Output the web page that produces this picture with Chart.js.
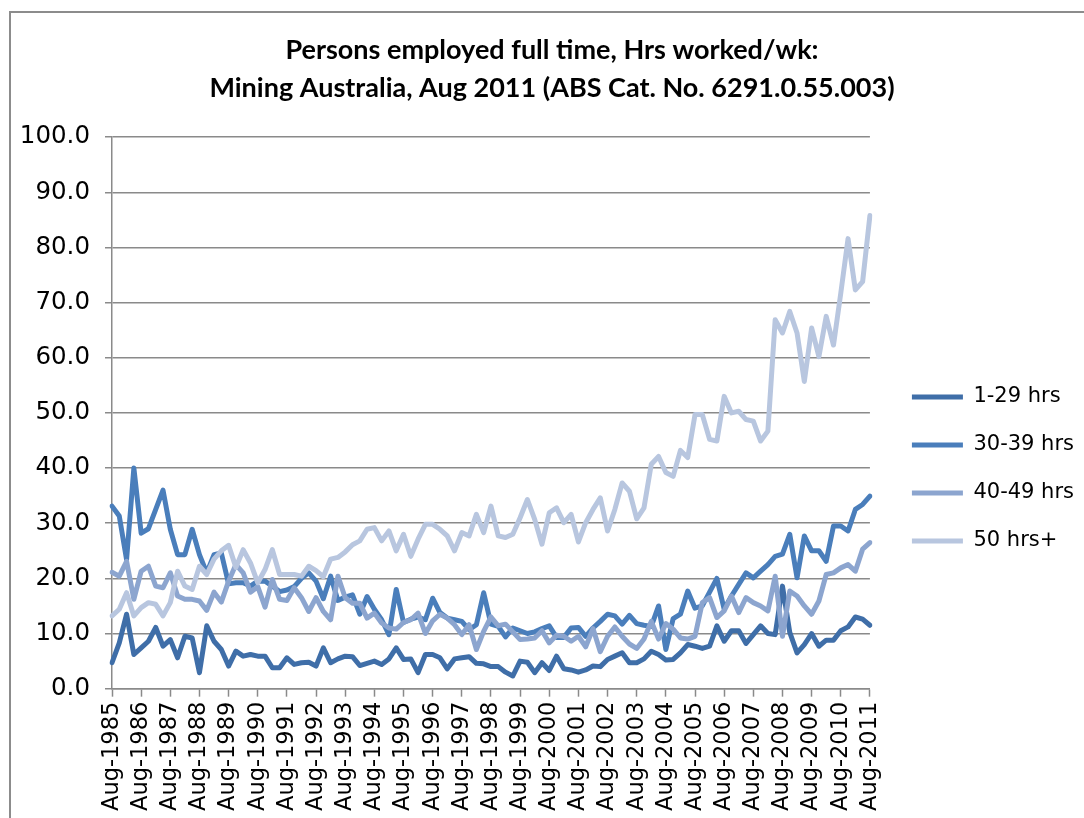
<!DOCTYPE html>
<html>
<head>
<meta charset="utf-8">
<script src="https://cdn.jsdelivr.net/npm/chart.js@4.4.0/dist/chart.umd.min.js"></script>
<style>
  html, body { margin: 0; padding: 0; background: #fff; }
  #wrap { width: 1084px; height: 818px; position: relative; }
</style>
</head>
<body>
<div id="wrap"><canvas id="c" width="1084" height="818"></canvas></div>
<script>
// ---- categories (quarterly) ----
const categories = [
 "Aug-1985","Nov-1985","Feb-1986","May-1986","Aug-1986","Nov-1986","Feb-1987","May-1987",
 "Aug-1987","Nov-1987","Feb-1988","May-1988","Aug-1988","Nov-1988","Feb-1989","May-1989",
 "Aug-1989","Nov-1989","Feb-1990","May-1990","Aug-1990","Nov-1990","Feb-1991","May-1991",
 "Aug-1991","Nov-1991","Feb-1992","May-1992","Aug-1992","Nov-1992","Feb-1993","May-1993",
 "Aug-1993","Nov-1993","Feb-1994","May-1994","Aug-1994","Nov-1994","Feb-1995","May-1995",
 "Aug-1995","Nov-1995","Feb-1996","May-1996","Aug-1996","Nov-1996","Feb-1997","May-1997",
 "Aug-1997","Nov-1997","Feb-1998","May-1998","Aug-1998","Nov-1998","Feb-1999","May-1999",
 "Aug-1999","Nov-1999","Feb-2000","May-2000","Aug-2000","Nov-2000","Feb-2001","May-2001",
 "Aug-2001","Nov-2001","Feb-2002","May-2002","Aug-2002","Nov-2002","Feb-2003","May-2003",
 "Aug-2003","Nov-2003","Feb-2004","May-2004","Aug-2004","Nov-2004","Feb-2005","May-2005",
 "Aug-2005","Nov-2005","Feb-2006","May-2006","Aug-2006","Nov-2006","Feb-2007","May-2007",
 "Aug-2007","Nov-2007","Feb-2008","May-2008","Aug-2008","Nov-2008","Feb-2009","May-2009",
 "Aug-2009","Nov-2009","Feb-2010","May-2010","Aug-2010","Nov-2010","Feb-2011","May-2011",
 "Aug-2011"
];

// ---- series values (%) ----
const hrs1to29 = [
 4.7, 8.3, 13.5, 6.2, 7.4, 8.6, 11.1, 7.7, 8.9, 5.6,
 9.5, 9.2, 2.9, 11.4, 8.6, 7.1, 4.1, 6.8, 5.9, 6.2,
 5.9, 5.9, 3.8, 3.8, 5.6, 4.4, 4.7, 4.8, 4.1, 7.4,
 4.7, 5.4, 5.9, 5.8, 4.2, 4.6, 5.0, 4.4, 5.4, 7.4,
 5.3, 5.4, 2.9, 6.2, 6.2, 5.6, 3.6, 5.4, 5.6, 5.8,
 4.6, 4.5, 4.0, 4.0, 3.0, 2.3, 5.0, 4.8, 2.9, 4.7,
 3.3, 5.9, 3.6, 3.4, 3.0, 3.4, 4.1, 4.0, 5.3, 5.9,
 6.5, 4.7, 4.7, 5.4, 6.8, 6.2, 5.2, 5.3, 6.5, 8.0,
 7.7, 7.3, 7.7, 11.4, 8.6, 10.5, 10.5, 8.2, 9.8, 11.4,
 10.0, 9.8, 18.6, 10.2, 6.5, 8.0, 10.0, 7.7, 8.8, 8.8,
 10.5, 11.2, 13.0, 12.6, 11.5
];
const hrs30to39 = [
 33.1, 31.3, 23.4, 40.0, 28.2, 29.0, 32.5, 36.0, 28.9, 24.3,
 24.3, 28.9, 24.3, 21.0, 24.3, 24.6, 19.0, 19.2, 19.2, 18.6,
 19.5, 19.5, 18.6, 17.6, 17.9, 18.5, 20.0, 21.0, 19.5, 16.3,
 20.4, 16.0, 16.6, 17.0, 13.5, 16.7, 14.4, 12.5, 9.8, 18.0,
 12.0, 12.6, 13.0, 12.5, 16.4, 13.8, 12.8, 12.5, 12.2, 10.7,
 11.6, 17.4, 11.7, 11.3, 9.4, 11.0, 10.5, 10.0, 10.3, 10.9,
 11.4, 9.3, 9.3, 11.0, 11.1, 9.5, 11.0, 12.2, 13.5, 13.2,
 11.7, 13.3, 11.8, 11.5, 11.3, 15.0, 7.1, 12.7, 13.5, 17.7,
 14.6, 15.0, 17.5, 20.0, 14.4, 16.8, 18.9, 21.0, 20.1, 21.3,
 22.5, 24.0, 24.4, 28.0, 20.1, 27.7, 25.0, 25.0, 23.1, 29.5,
 29.5, 28.6, 32.5, 33.4, 34.9
];
const hrs40to49 = [
 21.1, 20.4, 23.1, 16.2, 21.3, 22.2, 18.6, 18.3, 21.0, 16.8,
 16.2, 16.2, 15.9, 14.2, 17.5, 15.7, 19.5, 22.5, 21.0, 17.5,
 18.5, 14.8, 19.8, 16.2, 16.0, 18.3, 16.5, 14.0, 16.5, 14.0,
 12.5, 20.4, 16.5, 15.5, 15.5, 12.8, 13.7, 11.9, 11.0, 10.8,
 12.0, 12.5, 13.7, 10.0, 12.3, 13.5, 12.8, 11.6, 9.8, 11.6,
 7.1, 10.4, 13.0, 11.4, 11.7, 10.3, 8.9, 9.0, 9.2, 10.5,
 8.3, 9.7, 9.5, 8.6, 9.5, 7.6, 10.9, 6.7, 9.5, 11.2,
 9.5, 8.1, 7.3, 9.0, 12.2, 9.0, 11.8, 10.8, 9.2, 9.0,
 9.5, 15.6, 16.5, 12.9, 14.1, 16.8, 13.8, 16.5, 15.6, 15.0,
 14.1, 20.4, 9.5, 17.7, 16.8, 15.0, 13.5, 15.9, 20.7, 21.0,
 21.9, 22.5, 21.3, 25.3, 26.5
];
const hrs50plus = [
 13.2, 14.4, 17.4, 13.2, 14.7, 15.6, 15.3, 13.2, 15.6, 21.3,
 18.6, 18.0, 22.2, 20.7, 23.5, 25.0, 26.0, 22.0, 25.2, 22.8,
 19.2, 21.6, 25.2, 20.7, 20.7, 20.7, 20.4, 22.2, 21.4, 20.3,
 23.5, 23.8, 24.8, 26.1, 26.8, 28.9, 29.2, 26.8, 28.6, 25.0,
 28.0, 24.0, 27.1, 29.8, 29.8, 28.9, 27.7, 25.0, 28.3, 27.7,
 31.6, 28.3, 33.1, 27.7, 27.4, 28.0, 31.0, 34.3, 30.7, 26.2,
 31.9, 32.8, 30.1, 31.6, 26.6, 30.1, 32.5, 34.6, 28.6, 32.5,
 37.3, 35.8, 30.8, 32.8, 40.7, 42.1, 39.2, 38.5, 43.2, 41.9,
 49.7, 49.7, 45.2, 44.9, 53.0, 50.0, 50.3, 48.8, 48.5, 44.9,
 46.7, 66.9, 64.5, 68.4, 64.5, 55.7, 65.4, 60.2, 67.5, 62.3,
 71.7, 81.6, 72.3, 73.8, 85.8
];

const seriesNames = ["1-29 hrs", "30-39 hrs", "40-49 hrs", "50 hrs+"];
const yTickValues = [0, 10, 20, 30, 40, 50, 60, 70, 80, 90, 100];
const titleLines = ["Persons employed full time, Hrs worked/wk:",
                    "Mining Australia, Aug 2011 (ABS Cat. No. 6291.0.55.003)"];

// ---- styling ----
const colors = ["#3f6ea8", "#4a7ebb", "#8ca5cf", "#b8c6df"];
const gridColor = "#8a8a8a";

const allSeries = [hrs1to29, hrs30to39, hrs40to49, hrs50plus];

const framePlugin = {
  id: "frame",
  beforeDraw(chart) {
    const ctx = chart.ctx;
    ctx.save();
    ctx.fillStyle = "#fff";
    ctx.fillRect(0, 0, chart.width, chart.height);
    ctx.strokeStyle = "#8c8c8c";
    ctx.lineWidth = 2;
    ctx.beginPath();
    ctx.moveTo(10, chart.height);
    ctx.lineTo(10, 12);
    ctx.lineTo(chart.width, 12);
    ctx.stroke();
    ctx.restore();
  }
};

new Chart(document.getElementById("c"), {
  type: "line",
  data: {
    labels: categories,
    datasets: allSeries.map((vals, k) => ({
      label: seriesNames[k],
      data: vals,
      borderColor: colors[k],
      backgroundColor: colors[k],
      borderWidth: 5,
      pointRadius: 0,
      pointHoverRadius: 0,
      tension: 0,
      borderJoinStyle: "round",
      borderCapStyle: "round",
      order: allSeries.length - 1 - k
    }))
  },
  options: {
    responsive: false,
    animation: false,
    layout: { padding: { left: 20, right: 0, top: 0, bottom: 2 } },
    plugins: {
      title: {
        display: true,
        text: titleLines,
        color: "#000",
        font: { family: "Lato", weight: "bold", size: 27, lineHeight: 1.41 },
        padding: { top: 31, bottom: 30 }
      },
      legend: {
        position: "right",
        align: "center",
        maxWidth: 320,
        title: { display: true, text: "", font: { size: 10 }, padding: { top: 110, bottom: 0 } },
        labels: {
          color: "#000",
          font: { family: "DejaVu Sans", size: 21 },
          boxWidth: 51,
          boxHeight: 5,
          padding: 27,
          sort: (a, b) => a.datasetIndex - b.datasetIndex,
          generateLabels(chart) {
            const items = Chart.defaults.plugins.legend.labels.generateLabels(chart);
            items.forEach(it => { it.lineWidth = 0; it.fillStyle = colors[it.datasetIndex]; });
            return items;
          }
        }
      },
      tooltip: { enabled: false }
    },
    scales: {
      x: {
        type: "category",
        offset: false,
        afterFit(s) { s.paddingLeft = 0; s.paddingRight = 0; },
        grid: {
          display: true,
          drawOnChartArea: false,
          drawTicks: true,
          tickLength: 8,
          tickWidth: 1.5,
          tickColor: (c) => (c.index % 4 === 0 ? gridColor : "rgba(0,0,0,0)")
        },
        border: { display: true, color: gridColor, width: 1.5 },
        ticks: {
          autoSkip: false,
          maxRotation: 90,
          minRotation: 90,
          padding: 5,
          color: "#000",
          font: { family: "DejaVu Sans", size: 22.5 },
          callback: function (v, i) { return i % 4 === 0 ? categories[i] : ""; }
        }
      },
      y: {
        min: 0,
        max: 100,
        afterBuildTicks(scale) { scale.ticks = yTickValues.map(v => ({ value: v })); },
        afterFit(s) { s.width = 92; },
        grid: { color: gridColor, lineWidth: 1.5, tickLength: 7, drawTicks: true },
        border: { display: true, color: gridColor, width: 1.5 },
        ticks: {
          color: "#000",
          font: { family: "DejaVu Sans", size: 24.5 },
          padding: 15,
          callback: (v) => Number(v).toFixed(1)
        }
      },
      gap: {
        axis: "y",
        position: "right",
        display: true,
        grid: { display: false, drawTicks: false },
        border: { display: false },
        ticks: { display: false },
        afterFit(s) { s.width = 15; }
      }
    }
  },
  plugins: [framePlugin]
});
</script>
</body>
</html>
